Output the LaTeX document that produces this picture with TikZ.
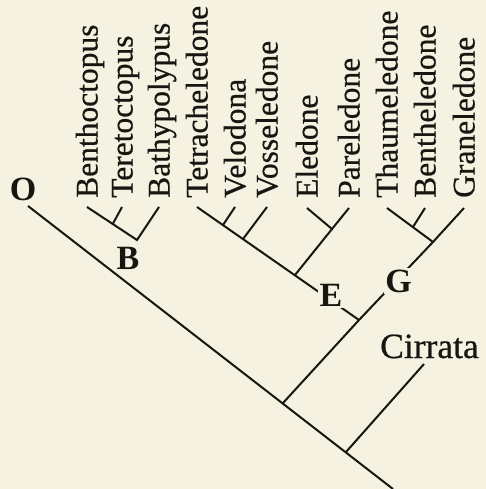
\documentclass[tikz,border=0pt]{standalone}
\usepackage{fontspec}
\setmainfont{Liberation Serif}
\newfontfamily\heavyserif[FakeBold=0.6]{Liberation Serif}
\definecolor{paper}{RGB}{246,242,226}
\definecolor{ink}{RGB}{25,22,18}
\begin{document}
\begin{tikzpicture}[x=1pt,y=-1pt,
  branch/.style={draw=ink,line width=2pt},
  taxon/.style={rotate=90,anchor=base west,inner sep=0pt,text=ink,font=\heavyserif\fontsize{31.5}{36}\selectfont},
  clade/.style={inner sep=1.5pt,fill=paper,text=ink,font=\fontsize{34}{40}\selectfont\bfseries},
  group/.style={anchor=base,inner sep=0pt,text=ink,font=\heavyserif\fontsize{35.5}{40}\selectfont}]
\fill[paper] (0,0) rectangle (486,489);
\useasboundingbox (0,0) rectangle (486,489);
% tips
\coordinate (tBen) at (87,207);
\coordinate (tTer) at (122,207);
\coordinate (tBat) at (159,207);
\coordinate (tTet) at (197,207);
\coordinate (tVel) at (235,207);
\coordinate (tVos) at (267,207);
\coordinate (tEle) at (307,208);
\coordinate (tPar) at (349,208);
\coordinate (tTha) at (387,208);
\coordinate (tBth) at (425,208);
\coordinate (tGra) at (464,208);
\coordinate (tCir) at (424,364);
\coordinate (root) at (28,206);
\coordinate (endm) at (393,489);
% junctions
\coordinate (jB) at (137,240);
\coordinate (jTer) at (113,223.5);
\coordinate (jVel) at (223,225);
\coordinate (jVos) at (243,239);
\coordinate (jEP) at (332,229);
\coordinate (jEPs) at (295,275);
\coordinate (jE) at (359,320);
\coordinate (jG) at (433,242);
\coordinate (jBth) at (413,227);
\coordinate (jInc) at (283,403);
\coordinate (jCir) at (346,452);
% labels
\foreach \n/\t/\x in {lBen/Benthoctopus/87,lTer/Teretoctopus/122,lBat/Bathypolypus/159,
  lTet/Tetracheledone/197,lVel/Velodona/235,lVos/Vosseledone/267,lEle/Eledone/307,
  lPar/Pareledone/349,lTha/Thaumeledone/387,lBth/Bentheledone/425,lGra/Graneledone/464}
  \node[taxon] (\n) at (\x+10.5,198) {\t};
% branches
\draw[branch] (root) -- (endm);
\draw[branch] (tBen) -- (jB) -- (tBat);
\draw[branch] (tTer) -- (jTer);
\draw[branch] (tTet) -- (jE);
\draw[branch] (tVel) -- (jVel);
\draw[branch] (tVos) -- (jVos);
\draw[branch] (tEle) -- (jEP) -- (tPar);
\draw[branch] (jEP) -- (jEPs);
\draw[branch] (jInc) -- (jE) -- (jG);
\draw[branch] (tTha) -- (jG) -- (tGra);
\draw[branch] (tBth) -- (jBth);
\draw[branch] (jCir) -- (tCir);
% clade letters
\node[clade,fill=none] (O) at (23,189) {O};
\node[clade,fill=none] (B) at (128,258) {B};
\node[clade] (E) at (331,295) {E};
\node[clade] (G) at (398.5,281) {G};
\node[group] (Cir) at (429.5,358) {Cirrata};
\end{tikzpicture}
\end{document}
